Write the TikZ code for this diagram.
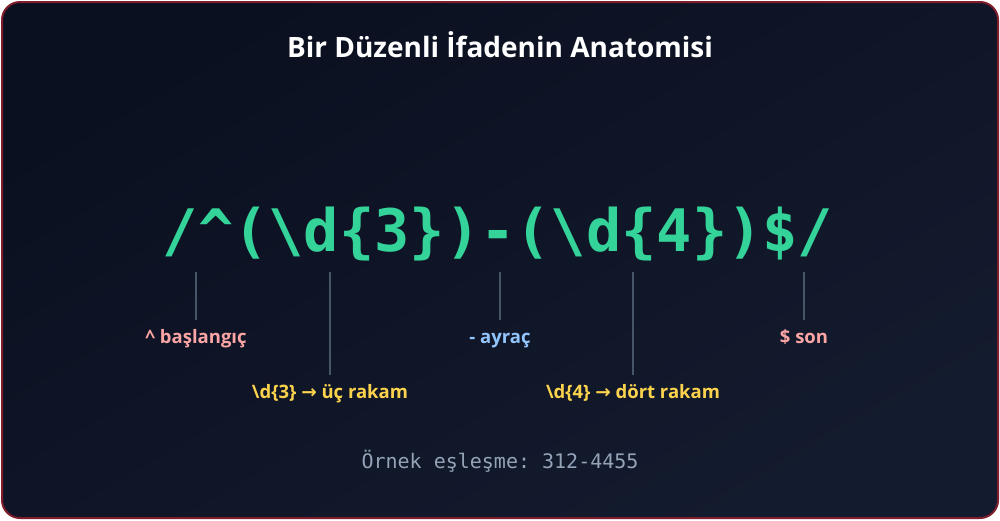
\documentclass[tikz,border=0pt]{standalone}
\usepackage{fontspec}
\setmainfont{Open Sans}
\setmonofont{DejaVu Sans Mono}
\newfontfamily\arrowfont{DejaVu Sans}
\usetikzlibrary{positioning}
\definecolor{bgtop}{HTML}{0B1020}
\definecolor{bgbot}{HTML}{131B2E}
\definecolor{framered}{HTML}{7F1D2D}
\definecolor{regexgreen}{HTML}{34D399}
\definecolor{tickgray}{HTML}{475569}
\definecolor{anchorpink}{HTML}{FCA5A5}
\definecolor{sepblue}{HTML}{93C5FD}
\definecolor{digityellow}{HTML}{FCD34D}
\definecolor{samplegray}{HTML}{94A3B8}
\tikzset{
 tokenpart/.style={font=\bfseries\fontsize{18.5}{22}\selectfont, text height=15pt, text depth=4pt, inner ysep=8pt, inner xsep=0pt},
 tickline/.style={draw=tickgray, line width=1.5pt},
}
\newcommand{\tokenlabel}[5]{%
 \coordinate (#1top) at (#2,272);%
 \node (#1) [tokenpart, text=#4, anchor=base] at (#2,#3) {#5};%
 \draw [tickline] (#1top) -- (#1.north);%
}

\begin{document}
\begin{tikzpicture}[x=1pt,y=-1pt]
 \useasboundingbox (0,0) rectangle (1000,520);
 \fill [white] (0,0) rectangle (1000,520);
 \shade [rounded corners=18pt, top color=bgtop, bottom color=bgbot, shading angle=30] (2,2) rectangle (998,518);
 \draw [framered, line width=2pt, rounded corners=18pt] (2,2) rectangle (998,518);
 % title
 \node (title) [anchor=base, text=white, font=\bfseries\fontsize{28}{32}\selectfont] at (500,57) {Bir Düzenli İfadenin Anatomisi};
 % the expression
 \node (regex) [anchor=base, text=regexgreen, font=\ttfamily\bfseries\fontsize{58.6}{62}\selectfont] at (498,251) {/\textasciicircum(\textbackslash d\{3\})-(\textbackslash d\{4\})\$/};
 % labels under the tokens
 \tokenlabel{start}{196}{343}{anchorpink}{\textasciicircum{} başlangıç}
 \tokenlabel{three}{330}{398}{digityellow}{\textbackslash d\{3\} {\arrowfont →} üç rakam}
 \tokenlabel{sep}{500}{343}{sepblue}{- ayraç}
 \tokenlabel{four}{633}{398}{digityellow}{\textbackslash d\{4\} {\arrowfont →} dört rakam}
 \tokenlabel{end}{804}{343}{anchorpink}{\$ son}
 % sample
 \node (sample) [anchor=base, text=samplegray, font=\ttfamily\fontsize{20}{24}\selectfont] at (500,468) {Örnek eşleşme: 312-4455};
\end{tikzpicture}
\end{document}
